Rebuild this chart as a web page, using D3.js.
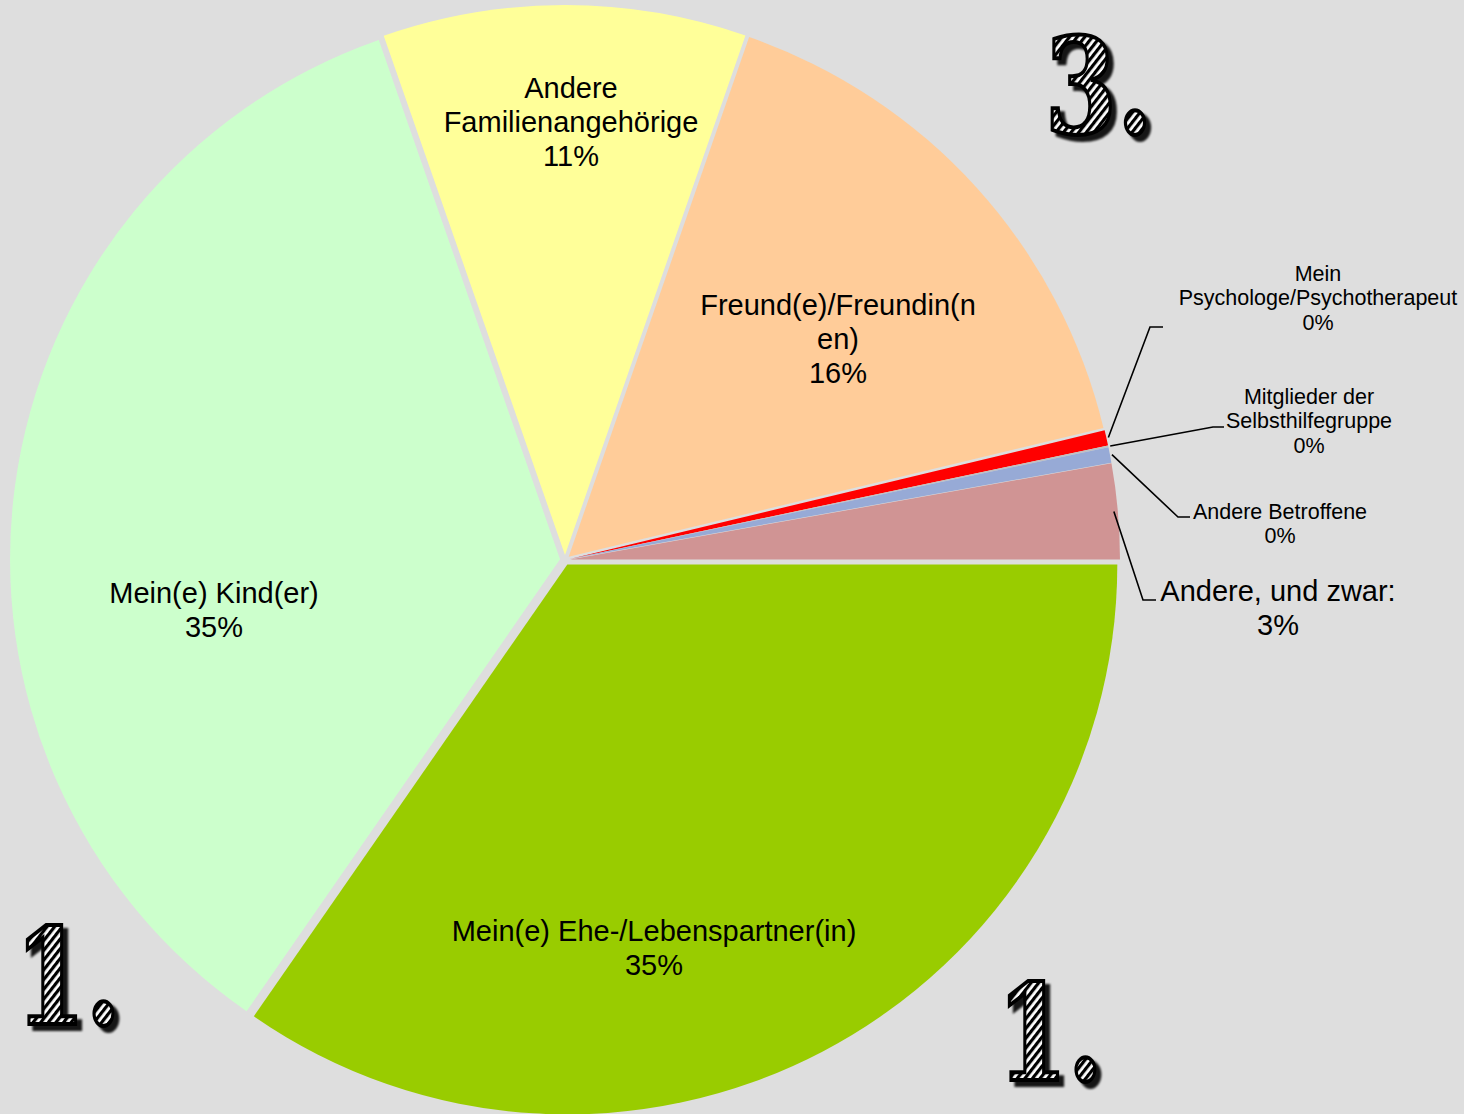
<!DOCTYPE html>
<html>
<head>
<meta charset="utf-8">
<script src="https://cdn.jsdelivr.net/npm/d3@7"></script>
<style>
  body { margin: 0; background: #dedede; }
  svg { display: block; }
</style>
</head>
<body>
<div id="chart"></div>
<script>
// Pie data (percent of answers)
var categories = [
  "Mein(e) Ehe-/Lebenspartner(in)",
  "Mein(e) Kind(er)",
  "Andere Familienangehörige",
  "Freund(e)/Freundin(nen)",
  "Mein Psychologe/Psychotherapeut",
  "Mitglieder der Selbsthilfegruppe",
  "Andere Betroffene",
  "Andere, und zwar:"
];
var values = [34.6, 34.95, 10.65, 15.9, 0.45, 0.05, 0.45, 2.8];

// how each label wraps (percent line is added below)
var labelLines = [
  ["Mein(e) Ehe-/Lebenspartner(in)"],
  ["Mein(e) Kind(er)"],
  ["Andere", "Familienangehörige"],
  ["Freund(e)/Freundin(n", "en)"],
  ["Mein", "Psychologe/Psychotherapeut"],
  ["Mitglieder der", "Selbsthilfegruppe"],
  ["Andere Betroffene"],
  ["Andere, und zwar:"]
];

// ranking marks
var rankTexts = ["1.", "1.", "3."];

var sliceColors = ["#99cc00", "#ccffcc", "#ffff99", "#ffcc99", "#ff0000", "#c0c0c0", "#97aad6", "#d09494"];

// ---- layout ----
var width = 1464, height = 1114;
var cx = 565, cy = 560, radius = 550, explode = 5;

// label anchor (centre x, centre of first line y), font size, line step
var labelLayout = [
  { x: 654, y: 931, size: 29, step: 34 },
  { x: 214, y: 593, size: 29, step: 34 },
  { x: 571, y: 88,  size: 29, step: 34 },
  { x: 838, y: 305, size: 29, step: 34 },
  { x: 1318, y: 273, size: 21.5, step: 24.5 },
  { x: 1309, y: 396, size: 21.5, step: 24.5 },
  { x: 1280, y: 511, size: 21.5, step: 24.5 },
  { x: 1278, y: 591, size: 29, step: 34 }
];
// leader line elbows for outside labels [elbow, end]
var leaderLayout = {
  4: [[1150, 327], [1163, 327]],
  5: [[1213, 427], [1224, 427]],
  6: [[1178, 517], [1190, 517]],
  7: [[1143, 600], [1156, 600]]
};
var rankLayout = [
  { x: 15, y: 1024, w: 106 },
  { x: 997, y: 1080, w: 106 },
  { x: 1045, y: 133, w: 108 }
];

var svg = d3.select("#chart").append("svg")
  .attr("width", width)
  .attr("height", height);

svg.append("rect")
  .attr("width", width).attr("height", height)
  .attr("fill", "#dedede");

// hatch pattern + shadow for the rank numbers
var defs = svg.append("defs");
var pat = defs.append("pattern")
  .attr("id", "hatch")
  .attr("patternUnits", "userSpaceOnUse")
  .attr("width", 6).attr("height", 6)
  .attr("patternTransform", "rotate(38)");
pat.append("rect").attr("width", 6).attr("height", 6).attr("fill", "#ffffff");
pat.append("rect").attr("width", 3.2).attr("height", 6).attr("fill", "#000000");

var shadow = defs.append("filter")
  .attr("id", "shadow")
  .attr("x", "-20%").attr("y", "-20%")
  .attr("width", "150%").attr("height", "150%");
shadow.append("feDropShadow")
  .attr("dx", 5).attr("dy", 5)
  .attr("stdDeviation", 1.2)
  .attr("flood-color", "#000")
  .attr("flood-opacity", 0.9);

var pie = d3.pie()
  .sort(null)
  .startAngle(Math.PI / 2)
  .endAngle(Math.PI / 2 + 2 * Math.PI);

var arcs = pie(values);

var arc = d3.arc().innerRadius(0).outerRadius(radius);

function offset(d, r) {
  var a = (d.startAngle + d.endAngle) / 2;
  return [Math.sin(a) * r, -Math.cos(a) * r];
}

var chartGroup = svg.append("g")
  .attr("transform", `translate(${cx}, ${cy})`);

chartGroup.selectAll("path.slice")
  .data(arcs)
  .enter()
  .append("path")
  .attr("class", "slice")
  .attr("d", arc)
  .attr("fill", (d, i) => sliceColors[i])
  .attr("transform", d => {
    var o = offset(d, explode);
    return `translate(${o[0]}, ${o[1]})`;
  });

// leader lines for the small slices
Object.keys(leaderLayout).forEach(function(k) {
  var i = +k;
  var d = arcs[i];
  var r = (i === 7) ? radius - 4 : radius + 2;
  var o = offset(d, r + explode);
  var pts = [[cx + o[0], cy + o[1]]].concat(leaderLayout[k]);
  svg.append("path")
    .attr("d", d3.line()(pts))
    .attr("fill", "none")
    .attr("stroke", "#000")
    .attr("stroke-width", 1.6);
});

// data labels
var total = d3.sum(values);
arcs.forEach(function(d, i) {
  var lay = labelLayout[i];
  var lines = labelLines[i].concat([Math.round(values[i] / total * 100) + "%"]);
  var t = svg.append("text")
    .attr("text-anchor", "middle")
    .attr("font-family", "Liberation Sans, Arial, sans-serif")
    .attr("font-size", lay.size)
    .attr("fill", "#000");
  lines.forEach(function(line, j) {
    t.append("tspan")
      .attr("x", lay.x)
      .attr("y", lay.y + j * lay.step + lay.size * 0.36)
      .text(line);
  });
});

// rank marks: hatched glyph with outline and drop shadow
rankTexts.forEach(function(txt, i) {
  var p = rankLayout[i];
  svg.append("text")
    .attr("x", p.x).attr("y", p.y)
    .attr("font-family", "DejaVu Serif, Liberation Serif, serif")
    .attr("font-weight", "bold")
    .attr("font-size", 132)
    .attr("textLength", p.w)
    .attr("lengthAdjust", "spacingAndGlyphs")
    .attr("fill", "url(#hatch)")
    .attr("stroke", "#000")
    .attr("stroke-width", 4)
    .attr("filter", "url(#shadow)")
    .text(txt);
});
</script>
</body>
</html>
